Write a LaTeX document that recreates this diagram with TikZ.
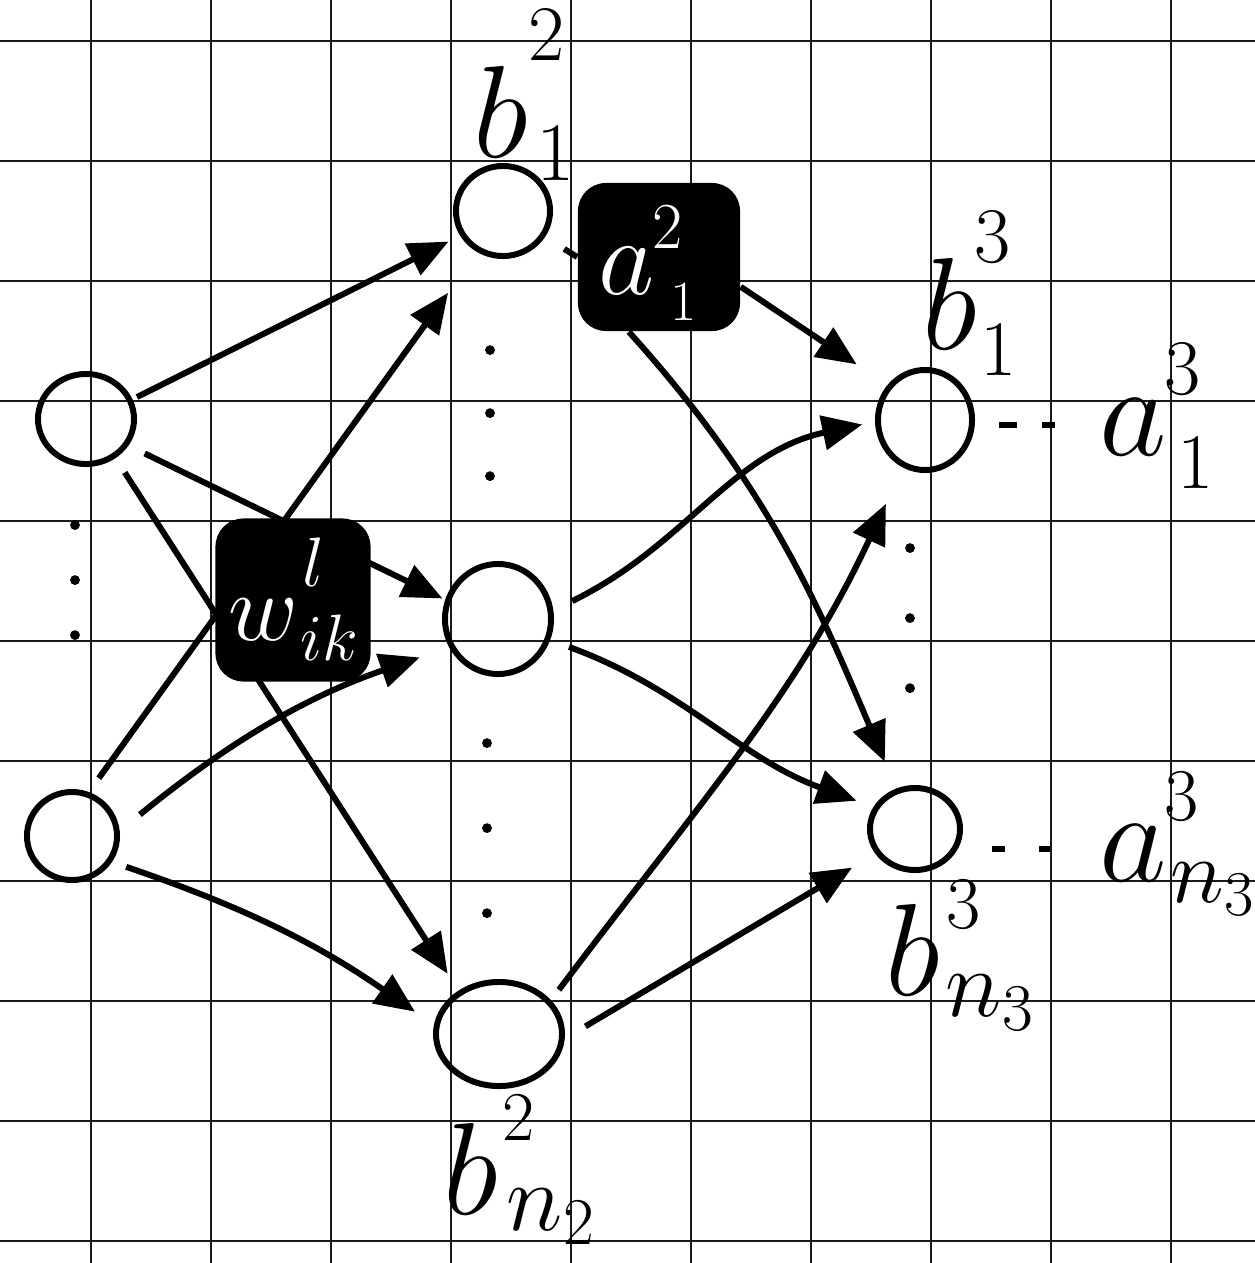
\documentclass[tikz,border=0pt]{standalone}
\usetikzlibrary{shapes.geometric,arrows.meta}
\begin{document}
\begin{tikzpicture}[x=0.01cm,y=-0.01cm,
  penline/.style={line width=1.7pt},
  neuron/.style={ellipse,draw,penline,inner sep=0pt},
  conn/.style={penline,-{Triangle[length=4mm,width=3.4mm]}},
  blk/.style={fill=black,rounded corners=0.28cm,inner sep=0pt},
  lab/.style={anchor=base west,inner sep=0pt,font=\Huge},
  wlab/.style={lab,text=white},
  dotcol/.style={line width=2.8pt,line cap=round,dash pattern=on 0pt off #1},
  gridline/.style={line width=0.8pt,black!90}]
\useasboundingbox (0,0) rectangle (1255,1263);
% grid paper
\foreach \i in {0,...,9} \draw[gridline] (91+120*\i,0) -- (91+120*\i,1263);
\foreach \j in {0,...,10} \draw[gridline] (0,41+120*\j) -- (1255,41+120*\j);
% neurons
\node[neuron,minimum width=0.96cm,minimum height=0.90cm] (in1) at (86,419) {};
\node[neuron,minimum width=0.90cm,minimum height=0.88cm] (in2) at (72,836) {};
\node[neuron,minimum width=0.94cm,minimum height=0.90cm] (h1) at (503,211) {};
\node[neuron,minimum width=1.06cm,minimum height=1.10cm] (h2) at (498,619) {};
\node[neuron,minimum width=1.26cm,minimum height=1.04cm] (h3) at (499,1034) {};
\node[neuron,minimum width=0.94cm,minimum height=1.00cm] (o1) at (925,420) {};
\node[neuron,minimum width=0.90cm,minimum height=0.82cm] (o2) at (915,829) {};
% activation box
\node[blk,minimum width=1.62cm,minimum height=1.48cm] (abox) at (659,257) {};
\node[wlab,scale=1.25] (aa) at (598,294) {$a$};
\node[wlab,scale=0.75] (aasup) at (652,248) {$2$};
\node[wlab,scale=0.65] (aasub) at (670,320) {$1$};
% labels b_1^2
\node[lab,scale=1.5] (b12) at (472,157) {$b$};
\node[lab,scale=0.9] (b12sup) at (528,60) {$2$};
\node[lab,scale=0.95] (b12sub) at (536,180) {$1$};
% b_1^3
\node[lab,scale=1.5] (b13) at (921,349) {$b$};
\node[lab,scale=0.9] (b13sup) at (974,262) {$3$};
\node[lab,scale=0.9] (b13sub) at (980,375) {$1$};
% a_1^3
\node[lab,scale=1.5] (a13) at (1098,455) {$a$};
\node[lab,scale=0.9] (a13sup) at (1164,394) {$3$};
\node[lab,scale=0.9] (a13sub) at (1177,488) {$1$};
% a_{n_3}^3
\node[lab,scale=1.5] (an3) at (1098,881) {$a$};
\node[lab,scale=0.85] (an3sup) at (1164,820) {$3$};
\node[lab,scale=1.05] (an3sub) at (1170,902) {$n_{\scriptscriptstyle 3}$};
% b_{n_3}^3
\node[lab,scale=1.5] (bn3) at (884,995) {$b$};
\node[lab,scale=0.85] (bn3sup) at (946,928) {$3$};
\node[lab,scale=1.1] (bn3sub) at (945,1016) {$n_{\scriptscriptstyle 3}$};
% b_{n_2}^2
\node[lab,scale=1.5] (bn2) at (442,1214) {$b$};
\node[lab,scale=0.8] (bn2sup) at (502,1140) {$2$};
\node[lab,scale=1.1] (bn2sub) at (506,1230) {$n_{\scriptscriptstyle 2}$};
% dotted columns
\draw[dotcol=0.55cm, shorten <=0.58cm, shorten >=1.40cm] ([xshift=-0.11cm]in1.south) -- ([xshift=0.03cm]in2.north);
\draw[dotcol=0.63cm, shorten <=0.91cm, shorten >=0.64cm] ([xshift=-0.13cm]h1.south) -- ([xshift=-0.08cm]h2.north);
\draw[dotcol=0.85cm, shorten <=0.66cm, shorten >=0.42cm] ([xshift=-0.11cm]h2.south) -- ([xshift=-0.12cm]h3.north);
\draw[dotcol=0.70cm, shorten <=0.75cm, shorten >=0.73cm] ([xshift=-0.15cm]o1.south) -- ([xshift=-0.05cm]o2.north);
% dotted links to outputs
\draw[penline, dash pattern=on 0.18cm off 0.25cm on 0.13cm off 2cm, shorten <=0.24cm] ([yshift=-0.05cm]o1.east) -- ([yshift=-0.05cm]o1.east -| a13.west);
\draw[penline, dash pattern=on 0.13cm off 0.34cm on 0.11cm off 2cm, shorten <=0.29cm] ([yshift=-0.2cm]o2.east) -- ([yshift=-0.2cm]o2.east -| an3.west);
% tick between h1 and its box
\draw[penline, shorten <=0.72cm] (h1.center) -- (abox.west);
% connectors layer 1 -> 2
\draw[conn, shorten <=0.05cm, shorten >=0.13cm] (in1.23) -- (h1.210);
\draw[conn, shorten <=0.18cm, shorten >=0.03cm] (in1.328) -- (h2.160);
\draw[conn, shorten <=0.17cm, shorten >=0.2cm] (in1.307) -- (h3.133);
\draw[conn, shorten <=0.17cm, shorten >=0.5cm] (in2.69) -- (h1.238);
\draw[conn, shorten <=0.26cm, shorten >=0.31cm] (in2.6) to[bend left=10] (h2.210);
\draw[conn, shorten <=0.15cm, shorten >=0.23cm] (in2.-33) to[bend left=8] (h3.172);
% connectors layer 2 -> 3
\draw[conn, shorten >=0.37cm] (abox.-20) -- (o1.137);
\draw[conn, shorten >=0.29cm] (abox.248) to[out=-48,in=113] (o2.115);
\draw[conn, shorten <=0.21cm, shorten >=0.13cm] (h2.9) to[out=26,in=192] (o1.182);
\draw[conn, shorten <=0.2cm, shorten >=0.18cm] (h2.-22) to[out=-20,in=160] (o2.152);
\draw[conn, shorten <=0.13cm, shorten >=0.4cm] (h3.33) to[out=53,in=245] (o1.245);
\draw[conn, shorten <=0.24cm, shorten >=0.27cm] (h3.-4) -- (o2.212);
% weight box on top of the crossing lines
\node[blk,minimum width=1.55cm,minimum height=1.63cm] (wbox) at (293,600) {};
\node[wlab,scale=1.1] (ww) at (228,640) {$w$};
\node[wlab,scale=0.8] (wwsup) at (302,586) {$l$};
\node[wlab,scale=0.75] (wwsub) at (300,660) {$ik$};
\end{tikzpicture}
\end{document}
